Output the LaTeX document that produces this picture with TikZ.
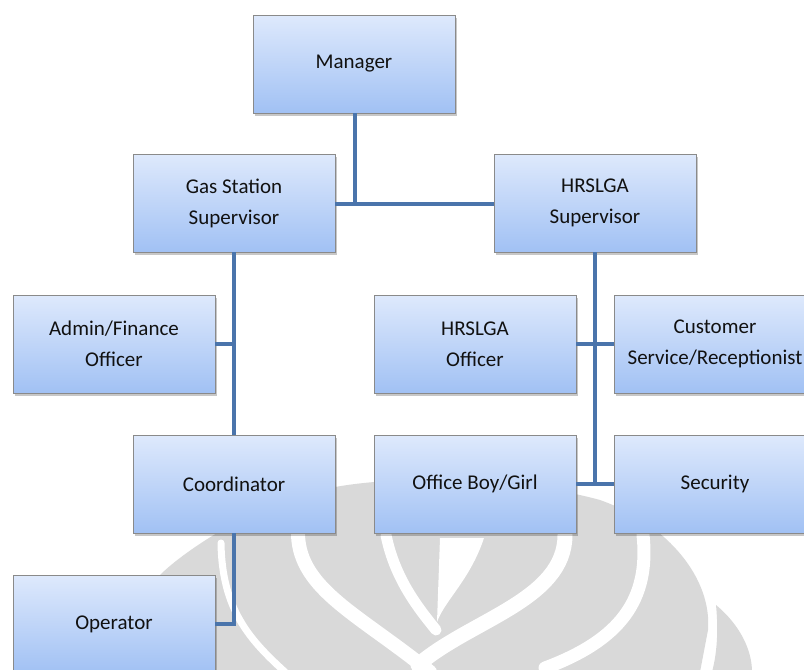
\documentclass[tikz,border=0pt]{standalone}
\usepackage{fontspec}
\setmainfont{Carlito}
\usetikzlibrary{shadows}
\definecolor{boxtop}{HTML}{DEE9FC}
\definecolor{boxbot}{HTML}{A1C1F4}
\definecolor{boxline}{HTML}{8A8A8A}
\definecolor{linkblue}{HTML}{4A74AB}
\definecolor{wmgrey}{HTML}{D9D9D9}
\definecolor{txt}{HTML}{111111}
\tikzset{
  orgbox/.style={draw=boxline, line width=0.8pt, top color=boxtop, bottom color=boxbot,
    minimum width=202pt, minimum height=98pt, inner sep=0pt, align=center,
    text=txt, font=\fontsize{21}{31}\selectfont,
    drop shadow={shadow xshift=2pt, shadow yshift=-3pt, fill=black, opacity=0.22}},
  link/.style={draw=linkblue, line width=4.8pt},
  wmband/.style={draw=white, line cap=round},
}
\begin{document}
\begin{tikzpicture}[x=1pt,y=-1pt]
\useasboundingbox (0,0) rectangle (804,670);
\clip (0,0) rectangle (804,670);
\fill[white] (0,0) rectangle (804,670);
% watermark
\fill[wmgrey] (160,672) -- (160,575) .. controls (185,550) and (260,500) .. (330,488)
  .. controls (400,474) and (520,478) .. (600,500)
  .. controls (670,525) and (712,580) .. (708,630) -- (700,672) -- cycle;
\fill[wmgrey] (716,605) .. controls (740,625) and (752,650) .. (752,672) -- (712,672) .. controls (718,650) and (718,625) .. (716,605) -- cycle;
\draw[wmband, line width=7pt] (221,543) .. controls (222,610) and (250,640) .. (285,672);
\draw[wmband, line width=14pt] (298,535) .. controls (300,590) and (360,615) .. (430,672);
\draw[wmband, line width=11pt] (386,535) .. controls (395,580) and (420,610) .. (436,630);
\fill[white] (440,538) -- (484,538) .. controls (470,580) and (445,600) .. (437,622) -- cycle;
\draw[wmband, line width=15pt] (565,535) .. controls (565,600) and (470,620) .. (418,665);
\draw[wmband, line width=13pt] (643,535) .. controls (650,600) and (620,640) .. (545,668);
% boxes
\node[orgbox] (mgr)  at (354,64)  {Manager};
\node[orgbox] (gas)  at (234,203) {Gas Station\\Supervisor};
\node[orgbox] (hrs)  at (595,203) {HRSLGA\\Supervisor};
\node[orgbox] (adm)  at (114,344) {Admin/Finance\\Officer};
\node[orgbox] (hoff) at (475,344) {HRSLGA\\Officer};
\node[orgbox] (cust) at (715,344) {Customer\\Service/Receptionist};
\node[orgbox] (crd)  at (234,484) {Coordinator};
\node[orgbox] (ob)   at (475,484) {Office Boy/Girl};
\node[orgbox] (sec)  at (715,484) {Security};
\node[orgbox] (op)   at (114,624) {Operator};
% connectors
\coordinate (j1) at (355,204);
\draw[link] (mgr.south -| j1) -- (j1);
\draw[link] (gas.east |- j1) -- (hrs.west |- j1);
\draw[link] (gas.south) -- (crd.north);
\draw[link] (adm.east) -- (adm.east -| gas.south);
\draw[link] (crd.south) -- (crd.south |- op.east) -- (op.east);
\draw[link] (hrs.south) -- (hrs.south |- ob.east);
\draw[link] (hoff.east) -- (cust.west);
\draw[link] (ob.east) -- (sec.west);
\end{tikzpicture}
\end{document}
